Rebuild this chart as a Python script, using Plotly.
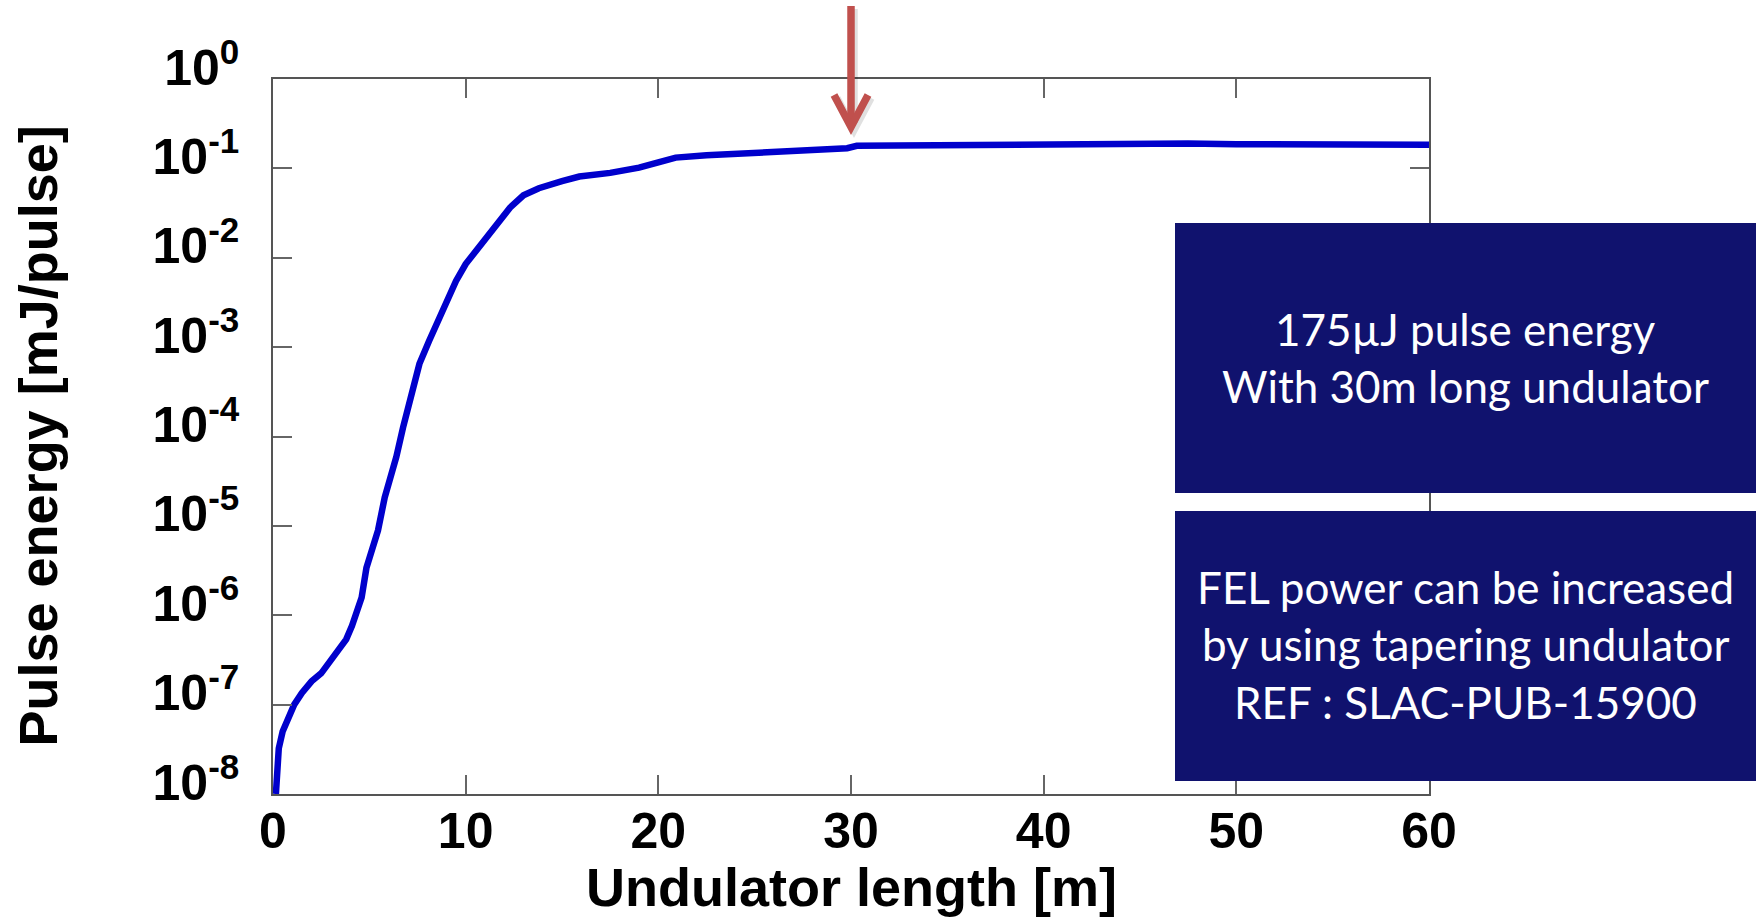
import plotly.graph_objects as go

# ---------------- data ----------------
undulator_length_m = [0.15, 0.2, 0.3, 0.5, 0.8, 1.1, 1.5, 2.0, 2.5, 3.0, 3.4, 3.8, 4.1, 4.4,
                      4.6, 4.85, 5.2, 5.45, 5.8, 6.1, 6.4, 6.75, 7.2, 7.6, 8.1, 8.65, 9.1,
                      9.5, 10.0, 10.7, 11.25, 11.75, 12.3, 13.0, 13.8, 15.0, 15.9, 17.5,
                      19.0, 20.0, 20.9, 22.5, 24.9, 27.8, 29.8, 30.3, 33.8, 36.6, 39.8,
                      42.0, 45.7, 47.5, 50.0, 55.0, 60.0]
pulse_energy_mJ = [1.0e-8, 1.95e-8, 3.24e-8, 5.0e-8, 7.4e-8, 1.0e-7, 1.35e-7, 1.82e-7,
                   2.24e-7, 3.09e-7, 3.98e-7, 5.37e-7, 7.6e-7, 1.12e-6, 1.58e-6, 3.39e-6,
                   6.2e-6, 8.9e-6, 2.09e-5, 3.47e-5, 5.9e-5, 1.26e-4, 2.95e-4, 6.5e-4,
                   1.17e-3, 2.14e-3, 3.63e-3, 5.5e-3, 8.5e-3, 1.32e-2, 1.82e-2, 2.57e-2,
                   3.63e-2, 5.0e-2, 6.0e-2, 7.2e-2, 8.1e-2, 8.9e-2, 0.102, 0.117, 0.132,
                   0.140, 0.147, 0.155, 0.168, 0.179, 0.182, 0.187, 0.184, 0.188, 0.195,
                   0.190, 0.186, 0.184, 0.184]

y_tick_vals = [1e-8, 1e-7, 1e-6, 1e-5, 1e-4, 1e-3, 1e-2, 1e-1, 1]
y_tick_text = ["10<sup>-8</sup>", "10<sup>-7</sup>", "10<sup>-6</sup>", "10<sup>-5</sup>",
               "10<sup>-4</sup>", "10<sup>-3</sup>", "10<sup>-2</sup>", "10<sup>-1</sup>",
               "10<sup>0</sup>"]
x_tick_vals = [0, 10, 20, 30, 40, 50, 60]
x_range = [0, 60]

x_title = "Undulator length [m]"
y_title = "Pulse energy [mJ/pulse]"
box1_lines = ["175µJ pulse energy", "With 30m long undulator"]
box2_lines = ["FEL power can be increased", "by using tapering undulator",
              "REF : SLAC-PUB-15900"]
arrow_x = 30

# ---------------- layout geometry ----------------
W, H = 1760, 919
ML, MR, MT, MB = 273, 331, 79, 125
PW, PH = W - ML - MR, H - MT - MB


def fx(px):
    return (px - ML) / PW


def fy(py):
    return (H - MB - py) / PH


BOLD = "Liberation Sans, Arial, sans-serif"
BOXFONT = "Lato, Carlito, Calibri, sans-serif"
NAVY = "#10126E"
ARROW = "#C0504D"

fig = go.Figure()
fig.add_trace(go.Scatter(
    x=undulator_length_m, y=pulse_energy_mJ, mode="lines",
    line=dict(color="#0000CC", width=6.5), showlegend=False, hoverinfo="skip"))

axis_common = dict(showline=True, linecolor="#555555", linewidth=1.5, mirror="ticks",
                   ticks="inside", ticklen=19, tickwidth=1.5, tickcolor="#666666",
                   showgrid=False, zeroline=False,
                   tickfont=dict(family=BOLD, size=50, color="black", weight="bold"))

fig.update_xaxes(range=x_range, tickvals=x_tick_vals, ticklabelstandoff=-8, **axis_common)
fig.update_yaxes(type="log", range=[-8, 0], tickvals=y_tick_vals, ticktext=y_tick_text,
                 ticklabelstandoff=22, ticklabelshift=-12, **axis_common)

shapes = []
# text boxes
for (y0, y1) in [(223, 493), (511, 781)]:
    shapes.append(dict(type="rect", xref="paper", yref="paper", x0=fx(1175), x1=fx(1756),
                       y0=fy(y1), y1=fy(y0), fillcolor=NAVY, line=dict(width=0),
                       layer="above"))
# red arrow (shaft + chevron head), positioned at x = arrow_x
ax_p = (arrow_x - x_range[0]) / (x_range[1] - x_range[0])
hw = 17 / PW
for dx, dy, col in [(3 / PW, -3 / PH, "rgba(0,0,0,0.12)"), (0, 0, ARROW)]:
    shapes.append(dict(type="line", xref="paper", yref="paper", x0=ax_p + dx, x1=ax_p + dx,
                       y0=fy(6) + dy, y1=fy(120) + dy, line=dict(color=col, width=7.5),
                       layer="above"))
    shapes.append(dict(type="path", xref="paper", yref="paper",
                       path=f"M {ax_p - hw + dx},{fy(95) + dy} L {ax_p + dx},{fy(127) + dy} "
                            f"L {ax_p + hw + dx},{fy(95) + dy}",
                       line=dict(color=col, width=7.5), layer="above"))

annotations = []
for txt, cy in zip(box1_lines + box2_lines, [329, 386, 587, 644, 702]):
    annotations.append(dict(text=txt, xref="paper", yref="paper", x=fx(1465), y=fy(cy),
                            xanchor="center", yanchor="middle", showarrow=False,
                            font=dict(family=BOXFONT, size=44, color="white")))
annotations.append(dict(text=x_title, xref="paper", yref="paper", x=0.5, y=fy(887),
                        xanchor="center", yanchor="middle", showarrow=False,
                        font=dict(family=BOLD, size=54, color="black", weight="bold")))
annotations.append(dict(text=y_title, xref="paper", yref="paper", x=fx(37), y=0.5,
                        xanchor="center", yanchor="middle", showarrow=False, textangle=-90,
                        font=dict(family=BOLD, size=54, color="black", weight="bold")))

fig.update_layout(width=W, height=H, margin=dict(l=ML, r=MR, t=MT, b=MB, pad=0),
                  paper_bgcolor="white", plot_bgcolor="white",
                  shapes=shapes, annotations=annotations, showlegend=False)

fig.write_html("out.html")
